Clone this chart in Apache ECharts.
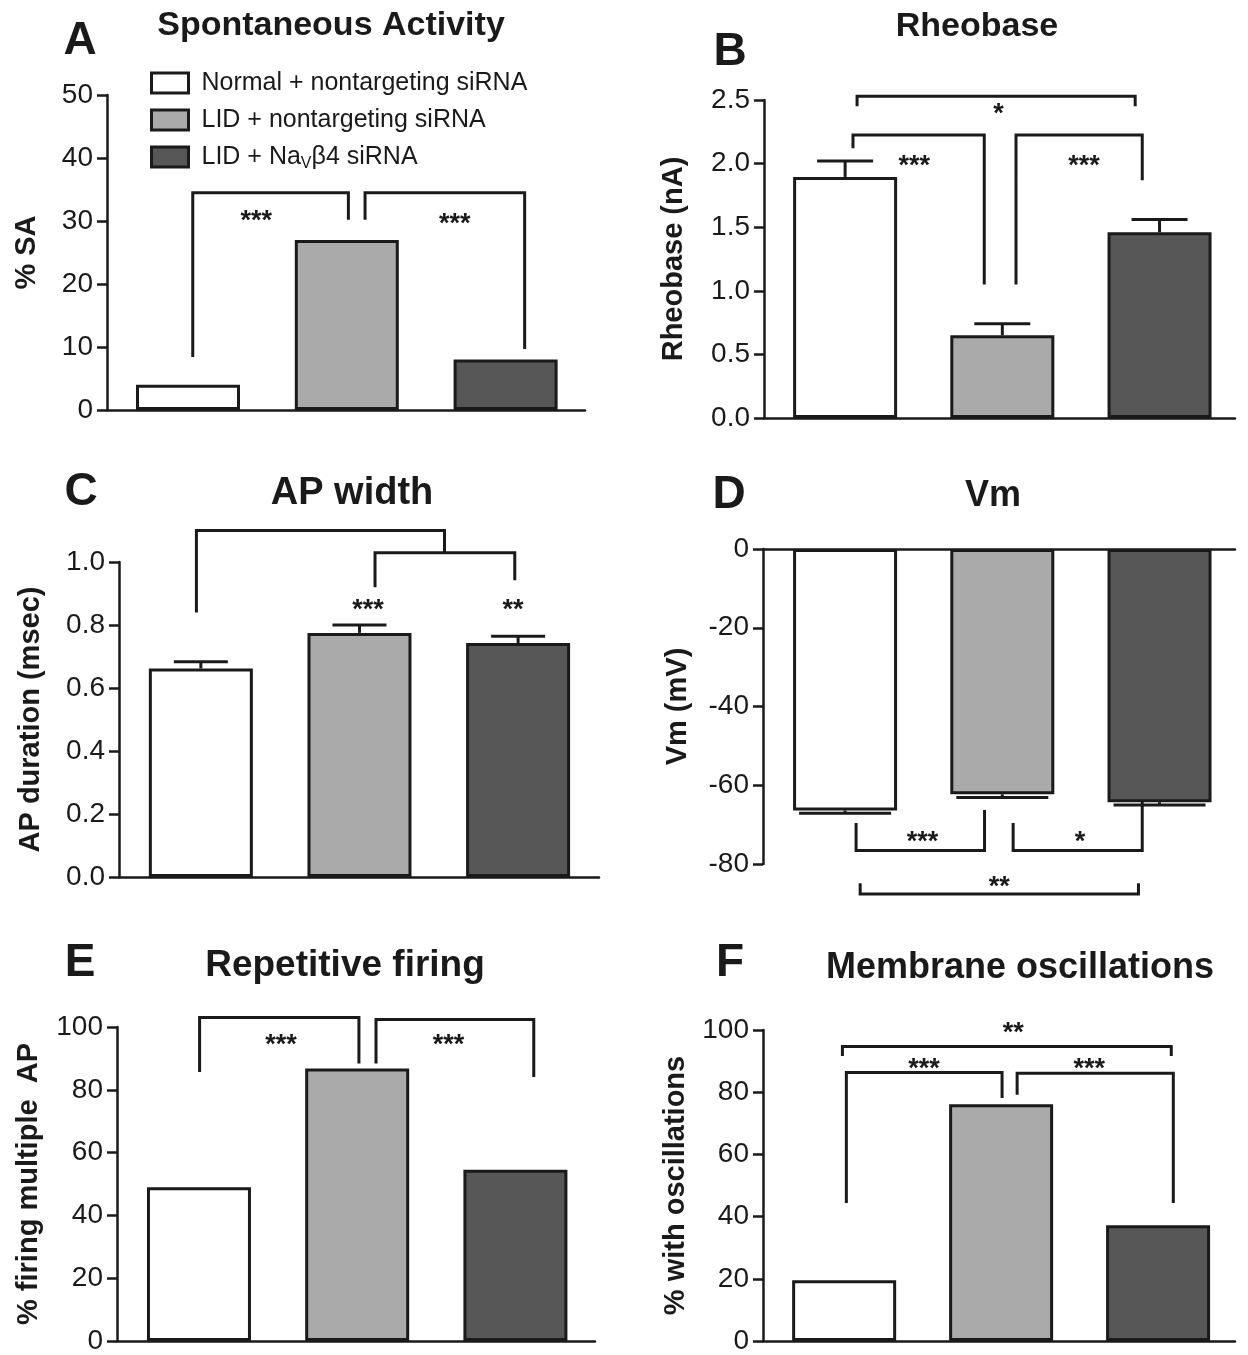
<!DOCTYPE html>
<html><head><meta charset="utf-8">
<script src="https://cdn.jsdelivr.net/npm/echarts@6/dist/echarts.min.js"></script>
<style>html,body{margin:0;padding:0;background:#fff}#chart{width:1248px;height:1355px}</style>
</head><body><div id="chart"></div>
<script>
// ---------- data ----------
const groups = ['Normal + nontargeting siRNA', 'LID + nontargeting siRNA', 'LID + NaVβ4 siRNA'];
const positions = [1, 2, 3];

// A: Spontaneous Activity
const saValues = [4.0, 27.0, 8.0];
const saTicks = [0, 10, 20, 30, 40, 50];
const saBrackets = [[1.03, 8.4, 2.01, 30.2, 34.5], [2.115, 30.2, 3.12, 9.7, 34.5]];
const saStars = [[1.43, 31.0], [2.68, 30.5]];
const saStarText = ['***', '***'];

// B: Rheobase
const rheoValues = [1.895, 0.65, 1.46];
const rheoErr = [0.125, 0.09, 0.10];
const rheoTicks = [0.0, 0.5, 1.0, 1.5, 2.0, 2.5];
const rheoBrackets = [[1.076, 2.45, 2.845, 2.45, 2.53], [1.05, 2.12, 1.885, 1.05, 2.225], [2.087, 1.05, 2.89, 1.87, 2.225]];
const rheoStars = [[1.975, 2.443], [1.44, 2.03], [2.52, 2.03]];
const rheoStarText = ['*', '***', '***'];

// C: AP width
const apValues = [0.662, 0.775, 0.743];
const apErr = [0.021, 0.025, 0.021];
const apTicks = [0.0, 0.2, 0.4, 0.6, 0.8, 1.0];
const apBrackets = [[0.972, 0.84, 2.536, 1.029, 1.10], [2.098, 0.92, 2.979, 0.942, 1.029]];
const apStars = [[2.054, 0.868], [2.968, 0.868]];
const apStarText = ['***', '**'];

// D: Vm
const vmValues = [-66.4, -62.3, -64.3];
const vmErr = [0.7, 0.8, 0.7];
const vmTicks = [-80, -60, -40, -20, 0];
const vmBrackets = [[1.07, -69.6, 1.887, -66.3, -76.6], [2.069, -69.6, 2.89, -64.2, -76.6], [1.096, -84.9, 2.866, -84.9, -87.6]];
const vmStars = [[1.493, -72.9], [2.494, -72.9], [1.98, -84.2]];
const vmStarText = ['***', '*', '**'];

// E: Repetitive firing
const rfValues = [49.0, 86.8, 54.5];
const rfTicks = [0, 20, 40, 60, 80, 100];
const rfBrackets = [[1.004, 85.7, 2.011, 88.4, 103], [2.119, 88.4, 3.116, 84.1, 102.4]];
const rfStars = [[1.518, 96.3], [2.577, 96.3]];
const rfStarText = ['***', '***'];

// F: Membrane oscillations
const oscValues = [19.5, 76.1, 37.2];
const oscTicks = [0, 20, 40, 60, 80, 100];
const oscBrackets = [[0.989, 91.6, 3.084, 91.6, 94.7], [1.014, 44.4, 2.006, 78.1, 86.3], [2.102, 79.2, 3.097, 44.4, 86.1]];
const oscStars = [[2.077, 101.0], [1.508, 89.5], [2.562, 89.5]];
const oscStarText = ['**', '***', '***'];

// ---------- layout / style ----------
const FONT = '"Liberation Sans", Arial, Helvetica, sans-serif';
const INK = '#1a1a1a';
const barColors = ['#ffffff', '#aaaaaa', '#575757'];

const panels = [
  {letter: 'A', title: 'Spontaneous Activity', yName: '% SA', values: saValues, ticks: saTicks, brackets: saBrackets, stars: saStars, starText: saStarText,
   grid: {left: 107, top: 95, width: 478, height: 315}, xr: [0.49, 3.5], nameGap: 66, dec: 0,
   letterPos: [80, 41], titlePos: [331, 26], titleSize: 34},
  {letter: 'B', title: 'Rheobase', yName: 'Rheobase (nA)', values: rheoValues, err: rheoErr, ticks: rheoTicks, brackets: rheoBrackets, stars: rheoStars, starText: rheoStarText,
   grid: {left: 764, top: 100, width: 471, height: 318}, xr: [0.484, 3.48], nameGap: 76, dec: 1, cap: 56,
   letterPos: [730, 52], titlePos: [977, 27], titleSize: 34},
  {letter: 'C', title: 'AP width', yName: 'AP duration (msec)', values: apValues, err: apErr, ticks: apTicks, brackets: apBrackets, stars: apStars, starText: apStarText,
   grid: {left: 119, top: 562, width: 480, height: 315}, xr: [0.484, 3.51], nameGap: 74, dec: 1, cap: 54,
   letterPos: [81, 492], titlePos: [352, 494], titleSize: 38},
  {letter: 'D', title: 'Vm', yName: 'Vm (mV)', values: vmValues, err: vmErr, ticks: vmTicks, brackets: vmBrackets, stars: vmStars, starText: vmStarText,
   grid: {left: 763, top: 549, width: 472, height: 315}, xr: [0.478, 3.48], nameGap: 71, dec: 0, cap: 92, xTop: true,
   letterPos: [729, 495], titlePos: [993, 496], titleSize: 36},
  {letter: 'E', title: 'Repetitive firing', yName: '% firing multiple  AP', values: rfValues, ticks: rfTicks, brackets: rfBrackets, stars: rfStars, starText: rfStarText,
   grid: {left: 117, top: 1027, width: 478, height: 315}, xr: [0.482, 3.503], nameGap: 74, dec: 0,
   letterPos: [80, 963], titlePos: [345, 966], titleSize: 37},
  {letter: 'F', title: 'Membrane oscillations', yName: '% with oscillations', values: oscValues, ticks: oscTicks, brackets: oscBrackets, stars: oscStars, starText: oscStarText,
   grid: {left: 763, top: 1030, width: 472, height: 317}, xr: [0.483, 3.49], nameGap: 73, dec: 0,
   letterPos: [730, 963], titlePos: [1020, 968], titleSize: 36}
];

function errorRender(capPx) {
  return function (params, api) {
    const x = api.value(0), v = api.value(1), e = api.value(2);
    const s = v < 0 ? -1 : 1;
    const p0 = api.coord([x, v]);
    const p1 = api.coord([x, v + s * e]);
    const st = {stroke: INK, lineWidth: 3, fill: null};
    return {type: 'group', children: [
      {type: 'line', shape: {x1: p0[0], y1: p0[1], x2: p1[0], y2: p1[1]}, style: st},
      {type: 'line', shape: {x1: p1[0] - capPx / 2, y1: p1[1], x2: p1[0] + capPx / 2, y2: p1[1]}, style: st}
    ]};
  };
}
function bracketRender(params, api) {
  const a = api.coord([api.value(0), api.value(1)]);
  const b = api.coord([api.value(0), api.value(4)]);
  const c = api.coord([api.value(2), api.value(4)]);
  const d = api.coord([api.value(2), api.value(3)]);
  return {type: 'polyline', shape: {points: [a, b, c, d]}, style: {stroke: INK, lineWidth: 3, fill: null}};
}
function starRender(texts) {
  return function (params, api) {
    const p = api.coord([api.value(0), api.value(1)]);
    return {type: 'text', x: p[0], y: p[1] + 7, style: {text: texts[params.dataIndex], font: 'bold 27px ' + FONT, fill: INK,
      align: 'center', verticalAlign: 'middle', textAlign: 'center', textVerticalAlign: 'middle'}};
  };
}

const grids = [], xAxes = [], yAxes = [], series = [], graphics = [];
panels.forEach((p, i) => {
  grids.push(Object.assign({containLabel: false}, p.grid));
  xAxes.push({gridIndex: i, type: 'value', min: p.xr[0], max: p.xr[1], position: p.xTop ? 'top' : 'bottom',
    axisLine: {show: true, onZero: false, lineStyle: {color: INK, width: 2.5}},
    axisTick: {show: false}, axisLabel: {show: false}, splitLine: {show: false}});
  const tmin = p.ticks[0], tmax = p.ticks[p.ticks.length - 1];
  yAxes.push({gridIndex: i, type: 'value', min: tmin, max: tmax, interval: p.ticks[1] - p.ticks[0],
    name: p.yName, nameLocation: 'middle', nameRotate: 90, nameGap: p.nameGap,
    nameTextStyle: {fontSize: 29, fontWeight: 'bold', color: INK, fontFamily: FONT},
    axisLine: {show: true, onZero: false, lineStyle: {color: INK, width: 2.5}},
    axisTick: {show: true, length: 10, lineStyle: {color: INK, width: 2.5}},
    axisLabel: {fontSize: 28, color: INK, margin: 14, fontFamily: FONT, formatter: (v) => v.toFixed(p.dec)},
    splitLine: {show: false}});
  groups.forEach((g, k) => {
    series.push({type: 'bar', name: g, xAxisIndex: i, yAxisIndex: i, barWidth: 104, barGap: '-100%', silent: true,
      itemStyle: {color: barColors[k], borderColor: INK, borderWidth: 3},
      data: [[positions[k], p.values[k]]]});
  });
  if (p.err) {
    series.push({type: 'custom', xAxisIndex: i, yAxisIndex: i, clip: false, silent: true, z: 3,
      renderItem: errorRender(p.cap), data: p.values.map((v, k) => [positions[k], v, p.err[k]])});
  }
  series.push({type: 'custom', xAxisIndex: i, yAxisIndex: i, clip: false, silent: true, z: 4,
    renderItem: bracketRender, data: p.brackets});
  series.push({type: 'custom', xAxisIndex: i, yAxisIndex: i, clip: false, silent: true, z: 4,
    renderItem: starRender(p.starText), data: p.stars});
  graphics.push({type: 'text', x: p.letterPos[0], y: p.letterPos[1], style: {text: p.letter, font: 'bold 46px ' + FONT, fill: INK,
    align: 'center', verticalAlign: 'middle', textAlign: 'center', textVerticalAlign: 'middle'}});
  graphics.push({type: 'text', x: p.titlePos[0], y: p.titlePos[1], style: {text: p.title, font: 'bold ' + p.titleSize + 'px ' + FONT, fill: INK,
    align: 'center', verticalAlign: 'middle', textAlign: 'center', textVerticalAlign: 'middle'}});
});

const chart = echarts.init(document.getElementById('chart'), null, {renderer: 'canvas', width: 1248, height: 1355});
chart.setOption({
  backgroundColor: '#ffffff',
  animation: false,
  grid: grids,
  xAxis: xAxes,
  yAxis: yAxes,
  legend: {
    orient: 'vertical', left: 145, top: 63, itemWidth: 37, itemHeight: 20, itemGap: 7, icon: 'rect',
    selectedMode: false, data: groups,
    itemStyle: {borderColor: INK, borderWidth: 3},
    formatter: (name) => name === groups[2] ? '{g|}LID + Na{s|V}β4 siRNA' : '{g|}' + name,
    textStyle: {fontSize: 25, color: INK, fontFamily: FONT, lineHeight: 30,
      rich: {g: {width: 8}, s: {fontSize: 16, lineHeight: 14, verticalAlign: 'bottom', fontFamily: FONT, color: INK}}}
  },
  graphic: graphics,
  series: series
});
</script></body></html>
